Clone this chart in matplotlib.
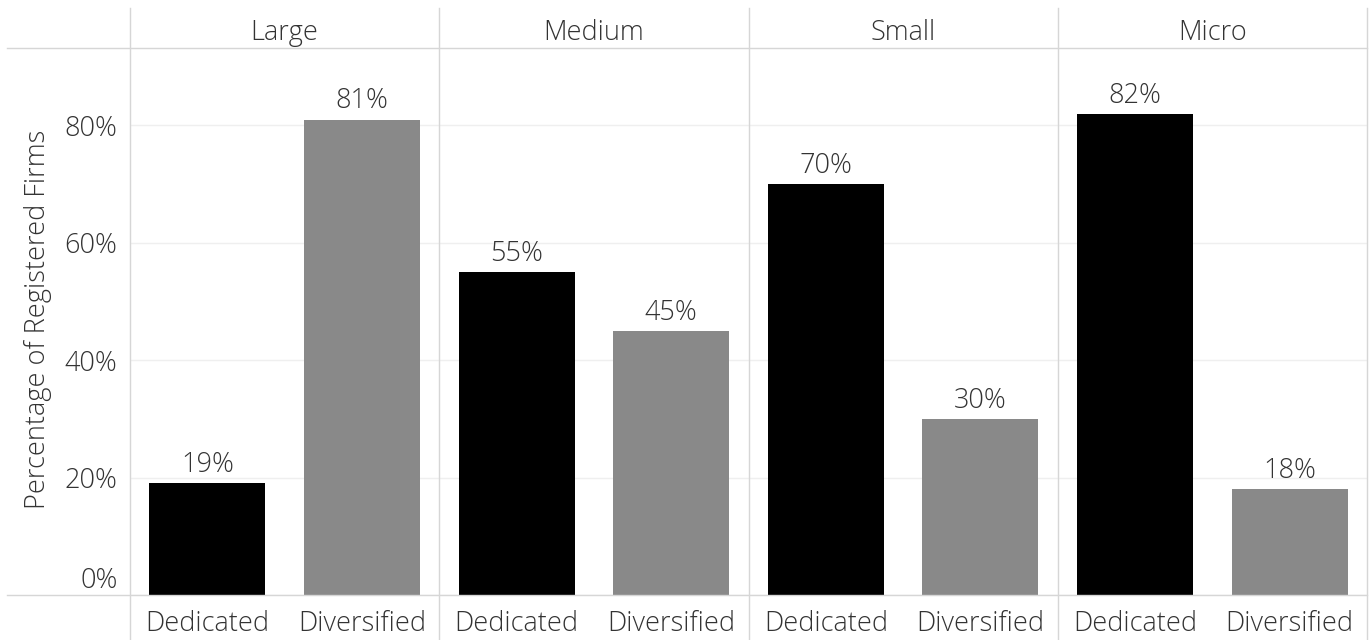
import matplotlib
matplotlib.use('Agg')
import matplotlib.pyplot as plt
from matplotlib.lines import Line2D

plt.rcParams['font.family'] = ['Open Sans', 'DejaVu Sans']
plt.rcParams['font.weight'] = 'light'

# firm size panels and ownership type shares (%)
sizes = ['Large', 'Medium', 'Small', 'Micro']
types = ['Dedicated', 'Diversified']
dedicated = [19, 55, 70, 82]
diversified = [81, 45, 30, 18]
yticks = [0, 20, 40, 60, 80]
ytick_labels = ['0%', '20%', '40%', '60%', '80%']

W, H = 1370, 640
fig = plt.figure(figsize=(W / 100, H / 100), dpi=100)

txt = '#333333'
border = '#d6d6d6'
bar_colors = ['#000000', '#898989']
fs = 19.5

left, right, top, bottom = 130, 1367, 48, 595
pw = (right - left) / len(sizes)

for i, size in enumerate(sizes):
    ax = fig.add_axes([(left + i * pw) / W, 1 - bottom / H, pw / W, (bottom - top) / H])
    vals = [dedicated[i], diversified[i]]
    bars = ax.bar(range(len(types)), vals, width=0.75, color=bar_colors, zorder=3)
    for b, v in zip(bars, vals):
        ax.annotate(f'{v}%', xy=(b.get_x() + b.get_width() / 2, v),
                    xytext=(0, 8), textcoords='offset points',
                    ha='center', va='baseline', fontsize=fs, color=txt)
    ax.set_xlim(-0.5, 1.5)
    ax.set_ylim(0, 93.2)
    ax.set_xticks(range(len(types)))
    ax.set_xticklabels(types, fontsize=fs, color=txt)
    ax.tick_params(axis='x', length=0, pad=11)
    ax.set_yticks(yticks)
    if i == 0:
        ax.set_yticklabels(ytick_labels, fontsize=fs, color=txt)
        ax.yaxis.get_major_ticks()[0].label1.set_verticalalignment('bottom')
        ax.tick_params(axis='y', length=0, pad=9)
    else:
        ax.tick_params(axis='y', length=0, labelleft=False)
    ax.yaxis.grid(True, color='#efefef', lw=1, zorder=0)
    for s in ax.spines.values():
        s.set_visible(False)
    ax.annotate(size, xy=(0.5, 1), xycoords='axes fraction', xytext=(0, 6),
                textcoords='offset points', ha='center', va='baseline',
                fontsize=fs, color=txt)

# panel borders
def fline(xs, ys):
    fig.add_artist(Line2D([x / W for x in xs], [1 - y / H for y in ys],
                          color=border, lw=1.0, zorder=5))

fline([7, right], [top, top])
fline([7, right], [bottom, bottom])
for i in range(len(sizes) + 1):
    x = left + i * pw
    fline([x, x], [8, H])

fig.text(38 / W, 1 - 319 / H, 'Percentage of Registered Firms', rotation=90,
         ha='center', va='center', fontsize=fs, color=txt)

fig.savefig('out.png', dpi=100)
